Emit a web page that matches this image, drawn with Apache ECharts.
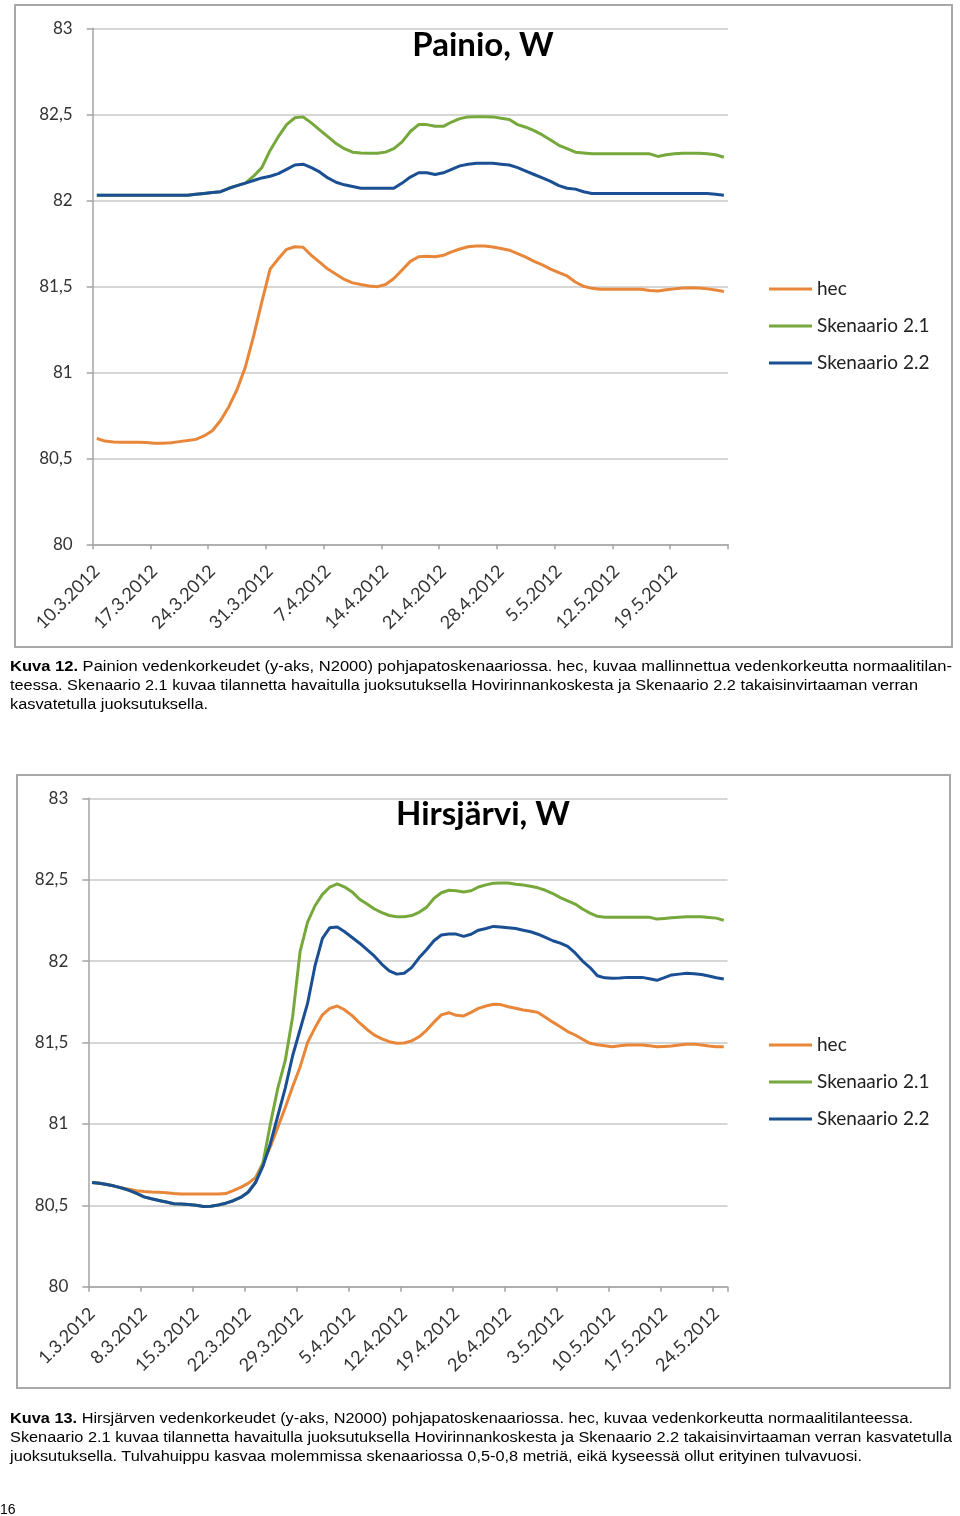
<!DOCTYPE html>
<html><head><meta charset="utf-8">
<script src="https://cdn.jsdelivr.net/npm/echarts@6/dist/echarts.min.js"></script>
<style>
html,body{margin:0;padding:0;background:#fff;}
#chart{position:absolute;left:0;top:0;width:960px;height:1516px;}
.cap{position:absolute;left:10px;font-family:'Liberation Sans',Arial,sans-serif;font-size:15.5px;line-height:19px;color:#000;white-space:nowrap;}
.cap div{transform-origin:0 0;display:block;}
.cap span.l{display:inline-block;transform-origin:0 50%;}
#pg{position:absolute;left:0;top:1501px;font-family:'Liberation Sans',Arial,sans-serif;font-size:14px;}
</style></head><body>
<div id="chart"></div>
<div class="cap" style="top:656px">
<div><span class="l" data-w="942"><b>Kuva 12.</b> Painion vedenkorkeudet (y-aks, N2000) pohjapatoskenaariossa. hec, kuvaa mallinnettua vedenkorkeutta normaalitilan-</span></div>
<div><span class="l" data-w="908">teessa. Skenaario 2.1 kuvaa tilannetta havaitulla juoksutuksella Hovirinnankoskesta ja Skenaario 2.2 takaisinvirtaaman verran</span></div>
<div><span class="l" data-w="198">kasvatetulla juoksutuksella.</span></div>
</div>
<div class="cap" style="top:1408px">
<div><span class="l" data-w="903"><b>Kuva 13.</b> Hirsjärven vedenkorkeudet (y-aks, N2000) pohjapatoskenaariossa. hec, kuvaa vedenkorkeutta normaalitilanteessa.</span></div>
<div><span class="l" data-w="942">Skenaario 2.1 kuvaa tilannetta havaitulla juoksutuksella Hovirinnankoskesta ja Skenaario 2.2 takaisinvirtaaman verran kasvatetulla</span></div>
<div><span class="l" data-w="852">juoksutuksella. Tulvahuippu kasvaa molemmissa skenaariossa 0,5-0,8 metriä, eikä kyseessä ollut erityinen tulvavuosi.</span></div>
</div>
<div id="pg">16</div>
<script>
// ---------- DATA ----------
const seriesNames = ['hec', 'Skenaario 2.1', 'Skenaario 2.2'];
const titles = ['Painio, W', 'Hirsjärvi, W'];
const yTicks = [80, 80.5, 81, 81.5, 82, 82.5, 83];

const dates1 = ['10.3.2012','11.3.2012','12.3.2012','13.3.2012','14.3.2012','15.3.2012','16.3.2012','17.3.2012','18.3.2012','19.3.2012','20.3.2012','21.3.2012','22.3.2012','23.3.2012','24.3.2012','25.3.2012','26.3.2012','27.3.2012','28.3.2012','29.3.2012','30.3.2012','31.3.2012',
'1.4.2012','2.4.2012','3.4.2012','4.4.2012','5.4.2012','6.4.2012','7.4.2012','8.4.2012','9.4.2012','10.4.2012','11.4.2012','12.4.2012','13.4.2012','14.4.2012','15.4.2012','16.4.2012','17.4.2012','18.4.2012','19.4.2012','20.4.2012','21.4.2012','22.4.2012','23.4.2012','24.4.2012','25.4.2012','26.4.2012','27.4.2012','28.4.2012','29.4.2012','30.4.2012',
'1.5.2012','2.5.2012','3.5.2012','4.5.2012','5.5.2012','6.5.2012','7.5.2012','8.5.2012','9.5.2012','10.5.2012','11.5.2012','12.5.2012','13.5.2012','14.5.2012','15.5.2012','16.5.2012','17.5.2012','18.5.2012','19.5.2012','20.5.2012','21.5.2012','22.5.2012','23.5.2012','24.5.2012','25.5.2012'];

const hec1 = [80.615,80.60,80.595,80.593,80.593,80.593,80.592,80.588,80.587,80.59,80.597,80.603,80.61,80.63,80.66,80.72,80.80,80.90,81.03,81.21,81.41,81.60,81.66,81.715,81.73,81.727,81.68,81.64,81.60,81.57,81.54,81.52,81.51,81.502,81.498,81.51,81.545,81.595,81.645,81.672,81.675,81.672,81.68,81.70,81.717,81.73,81.734,81.734,81.728,81.72,81.71,81.69,81.67,81.645,81.625,81.60,81.58,81.56,81.525,81.50,81.488,
81.483,81.483,81.483,81.483,81.483,81.483,81.475,81.473,81.48,81.485,81.49,81.492,81.49,81.485,81.478,81.47];

const sk21_1 = [82.03,82.03,82.03,82.03,82.03,82.03,82.03,82.03,82.03,82.03,82.03,82.03,82.035,82.04,82.045,82.05,82.07,82.085,82.10,
82.14,82.19,82.29,82.37,82.44,82.48,82.485,82.45,82.41,82.37,82.33,82.30,82.28,82.275,82.273,82.273,82.28,82.30,82.34,82.40,82.44,82.44,82.43,82.43,82.455,82.475,82.485,82.486,82.486,82.485,82.477,82.47,82.44,82.425,82.405,82.38,82.35,82.32,82.30,82.28,82.275,82.27,
82.27,82.27,82.27,82.27,82.27,82.27,82.27,82.255,82.265,82.27,82.273,82.273,82.273,82.27,82.265,82.25];

const sk22_1 = [82.03,82.03,82.03,82.03,82.03,82.03,82.03,82.03,82.03,82.03,82.03,82.03,82.035,
82.04,82.045,82.05,82.07,82.085,82.10,82.115,82.13,82.14,82.155,82.18,82.205,82.21,82.19,82.165,82.13,82.105,82.09,82.08,82.07,82.07,82.07,82.07,82.07,82.10,82.135,82.16,82.16,82.15,82.16,82.18,82.20,82.21,82.215,82.215,82.215,82.21,82.205,82.19,82.17,82.15,82.13,82.11,82.085,82.07,82.065,82.05,82.04,
82.04,82.04,82.04,82.04,82.04,82.04,82.04,82.04,82.04,82.04,82.04,82.04,82.04,82.04,82.035,82.03];

const dates2 = ['1.3.2012','2.3.2012','3.3.2012','4.3.2012','5.3.2012','6.3.2012','7.3.2012','8.3.2012','9.3.2012','10.3.2012','11.3.2012','12.3.2012','13.3.2012','14.3.2012','15.3.2012','16.3.2012','17.3.2012','18.3.2012','19.3.2012','20.3.2012','21.3.2012','22.3.2012','23.3.2012','24.3.2012','25.3.2012','26.3.2012','27.3.2012','28.3.2012','29.3.2012','30.3.2012','31.3.2012',
'1.4.2012','2.4.2012','3.4.2012','4.4.2012','5.4.2012','6.4.2012','7.4.2012','8.4.2012','9.4.2012','10.4.2012','11.4.2012','12.4.2012','13.4.2012','14.4.2012','15.4.2012','16.4.2012','17.4.2012','18.4.2012','19.4.2012','20.4.2012','21.4.2012','22.4.2012','23.4.2012','24.4.2012','25.4.2012','26.4.2012','27.4.2012','28.4.2012','29.4.2012','30.4.2012',
'1.5.2012','2.5.2012','3.5.2012','4.5.2012','5.5.2012','6.5.2012','7.5.2012','8.5.2012','9.5.2012','10.5.2012','11.5.2012','12.5.2012','13.5.2012','14.5.2012','15.5.2012','16.5.2012','17.5.2012','18.5.2012','19.5.2012','20.5.2012','21.5.2012','22.5.2012','23.5.2012','24.5.2012','25.5.2012'];

const hec2 = [80.64,80.635,80.628,80.618,80.607,80.598,80.59,80.585,80.582,80.58,80.577,80.572,80.57,80.57,80.57,80.57,80.57,80.57,80.572,80.59,80.61,80.635,80.67,80.76,80.86,80.98,81.10,81.23,81.35,81.50,81.59,81.67,81.71,81.724,81.70,81.665,81.62,81.58,81.545,81.522,81.505,81.495,81.497,81.51,81.535,81.575,81.625,81.67,81.683,81.667,81.663,81.685,81.71,81.724,81.735,81.733,81.72,81.71,81.70,81.694,81.685,81.655,81.625,81.597,81.567,81.546,81.52,81.495,81.486,81.48,81.474,81.48,81.485,81.485,81.485,81.48,81.474,81.476,81.478,81.485,81.489,81.49,81.485,81.478,81.474,81.474];

const sk21_2 = [80.64,80.635,80.628,80.618,80.606,80.592,80.573,80.552,80.54,80.53,80.52,80.51,80.508,80.505,80.50,80.492,80.494,80.502,80.513,80.528,80.548,80.58,80.64,
80.76,81.0,81.22,81.39,81.66,82.06,82.24,82.34,82.41,82.455,82.474,82.455,82.425,82.38,82.35,82.32,82.298,82.28,82.273,82.273,82.28,82.30,82.33,82.385,82.42,82.435,82.432,82.425,82.432,82.455,82.468,82.478,82.48,82.48,82.472,82.467,82.46,82.45,82.435,82.415,82.39,82.37,82.35,82.32,82.295,82.275,82.27,
82.269,82.269,82.269,82.269,82.269,82.269,82.258,82.262,82.266,82.27,82.273,82.273,82.272,82.268,82.264,82.25];

const sk22_2 = [80.64,80.635,80.628,80.618,80.606,80.592,80.573,80.552,80.54,80.53,80.52,80.51,80.508,80.505,80.50,80.492,80.494,80.502,80.513,80.528,80.548,80.58,80.64,80.74,80.88,81.05,81.22,81.42,81.58,81.74,81.97,82.14,82.205,82.21,82.18,82.145,82.11,82.07,82.03,81.98,81.94,81.92,81.925,81.96,82.02,82.07,82.125,82.16,82.166,82.166,82.152,82.165,82.19,82.20,82.213,82.21,82.205,82.20,82.19,82.18,82.165,82.145,82.125,82.11,82.09,82.05,82.00,81.96,81.91,81.897,81.894,81.896,81.90,81.90,81.90,81.892,81.882,81.898,81.915,81.92,81.925,81.922,81.918,81.908,81.898,81.89];

// ---------- STYLE / LAYOUT ----------
const colors = ['#E8873A', '#77A83C', '#1B4F93'];
const FONT = 'Lato';
const axisGray = '#a3a3a3';
const gridLayout = [
  {left: 92.7, top: 28.3, width: 635.3, height: 516},
  {left: 88.3, top: 798.3, width: 639.2, height: 488.4}
];

function yAxis(gi) {
  return {
    type: 'value', gridIndex: gi, min: yTicks[0], max: yTicks[yTicks.length - 1], interval: 0.5,
    axisLine: {show: true, lineStyle: {color: axisGray, width: 1.5}},
    axisTick: {show: true, length: 6, lineStyle: {color: axisGray, width: 1.5}},
    splitLine: {show: true, lineStyle: {color: '#c8c8c8', width: 1.5}},
    axisLabel: {fontSize: 17, color: '#333', margin: 20, fontFamily: FONT,
      formatter: v => String(v).replace('.', ',')}
  };
}
function xAxis(gi, cats) {
  return {
    type: 'category', gridIndex: gi, data: cats, boundaryGap: true,
    axisLine: {show: true, lineStyle: {color: axisGray, width: 1.5}},
    axisTick: {show: true, interval: 6, length: 5, lineStyle: {color: axisGray, width: 1.5}},
    axisLabel: {interval: 6, rotate: 45, fontSize: 18, color: '#333', margin: 24, fontFamily: FONT}
  };
}
function line(name, gi, data, color) {
  return {name, type: 'line', xAxisIndex: gi, yAxisIndex: gi, data, symbol: 'none',
    lineStyle: {width: 3, color}, itemStyle: {color}, z: 3};
}
function legend(top) {
  return {left: 769, top, orient: 'vertical', itemWidth: 43, itemHeight: 3, itemGap: 17,
    icon: 'rect', padding: 0, selectedMode: false, data: seriesNames,
    textStyle: {fontSize: 19, color: '#222', lineHeight: 20, fontFamily: FONT}};
}
function title(text, top) {
  return {text, left: 483, top, textAlign: 'center', padding: 0,
    textStyle: {fontSize: 33, fontWeight: 'bold', fontFamily: FONT, color: '#000'}};
}

const chart = echarts.init(document.getElementById('chart'), null, {renderer: 'canvas'});
chart.setOption({
  animation: false,
  backgroundColor: '#fff',
  textStyle: {fontFamily: FONT},
  title: [title(titles[0], 29), title(titles[1], 798)],
  legend: [legend(279), legend(1035)],
  grid: gridLayout.map(g => Object.assign({outerBoundsMode: 'none', containLabel: false}, g)),
  xAxis: [xAxis(0, dates1), xAxis(1, dates2)],
  yAxis: [yAxis(0), yAxis(1)],
  graphic: [
    {type: 'rect', z: -1, shape: {x: 15, y: 5, width: 937, height: 642}, style: {fill: 'none', stroke: '#a8a8a8', lineWidth: 2}},
    {type: 'rect', z: -1, shape: {x: 17, y: 775, width: 933, height: 613}, style: {fill: 'none', stroke: '#a8a8a8', lineWidth: 2}}
  ],
  series: [
    line(seriesNames[0], 0, hec1, colors[0]),
    line(seriesNames[1], 0, sk21_1, colors[1]),
    line(seriesNames[2], 0, sk22_1, colors[2]),
    line(seriesNames[0], 1, hec2, colors[0]),
    line(seriesNames[1], 1, sk21_2, colors[1]),
    line(seriesNames[2], 1, sk22_2, colors[2])
  ]
});

// fit caption lines to the reference widths
document.querySelectorAll('.cap span.l').forEach(s => {
  const w = s.getBoundingClientRect().width;
  const target = +s.dataset.w;
  if (w > 0) s.style.transform = 'scaleX(' + (target / w).toFixed(4) + ')';
});
</script>
</body></html>
